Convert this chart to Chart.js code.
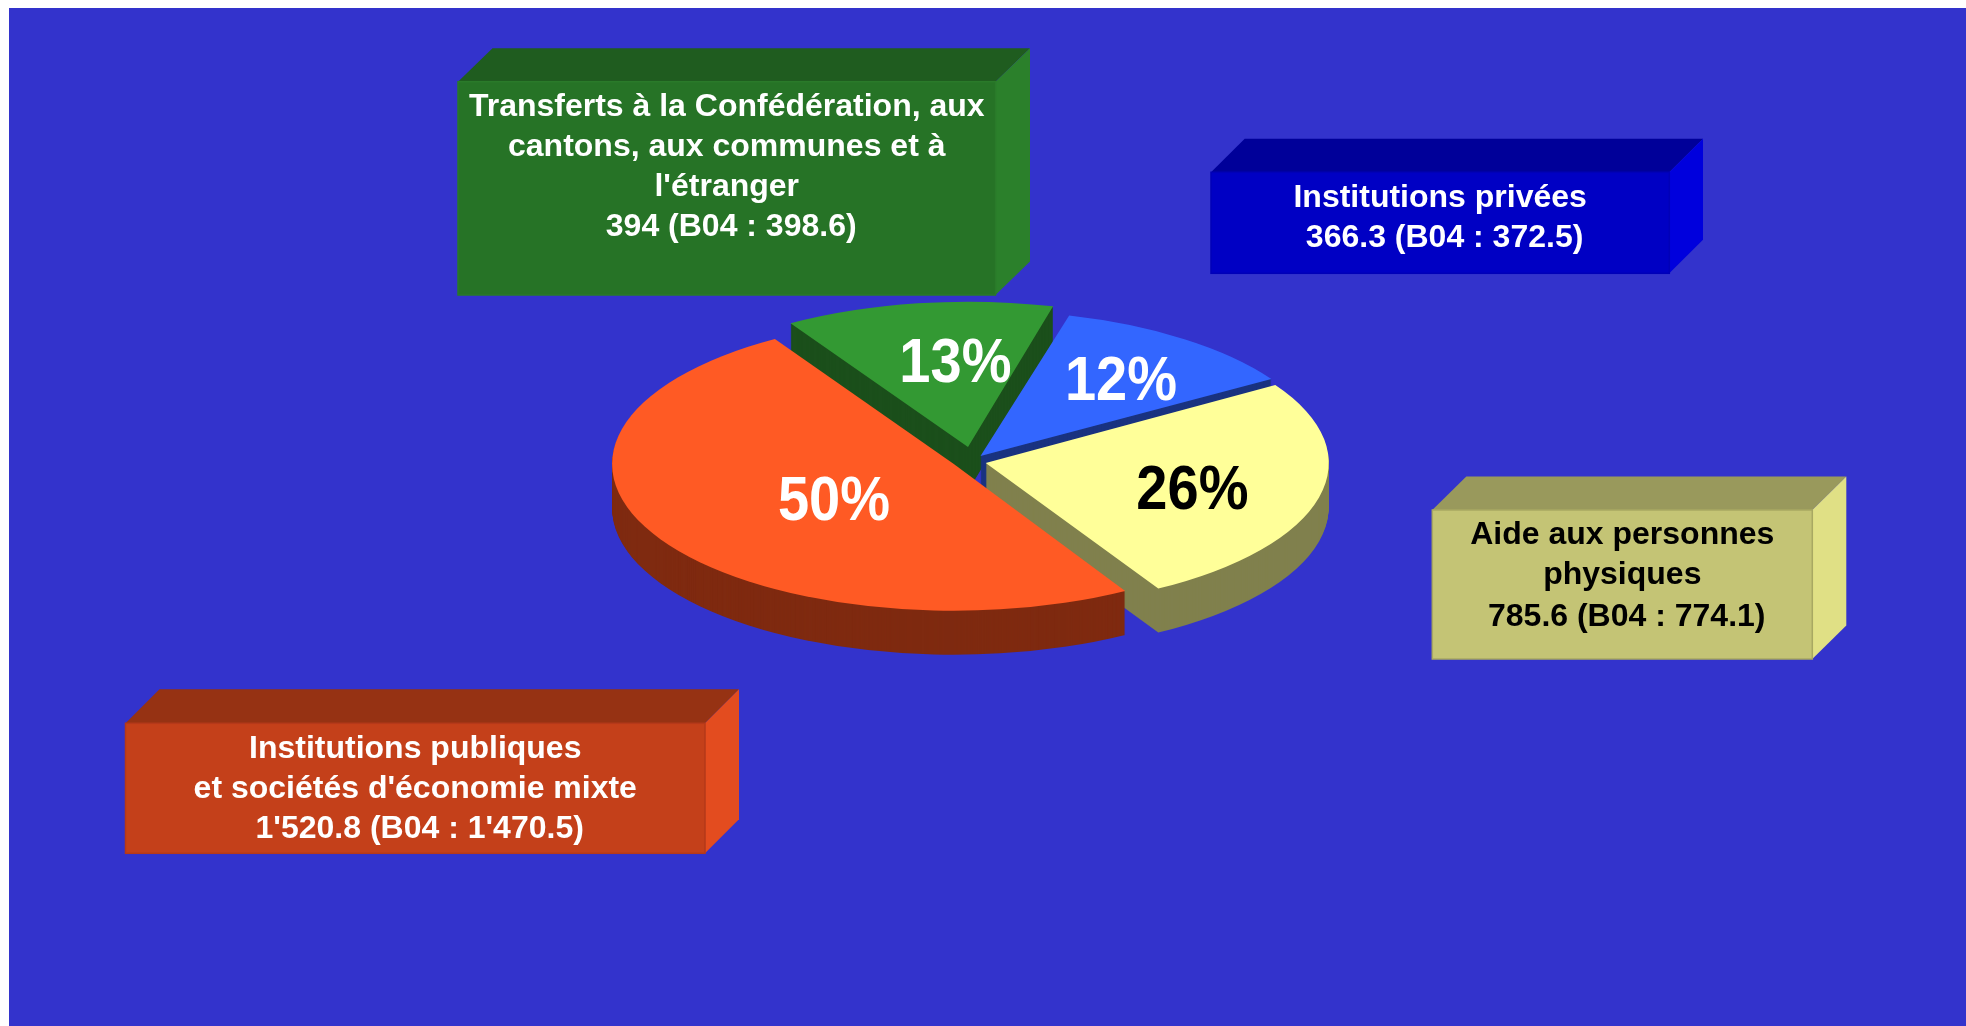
<!DOCTYPE html>
<html>
<head>
<meta charset="utf-8">
<style>
html,body{margin:0;padding:0;background:#fff;overflow:hidden}
canvas{display:block}
</style>
<script src="https://cdn.jsdelivr.net/npm/chart.js@4"></script>
</head>
<body>
<canvas id="c" width="1966" height="1026"></canvas>
<script>
// ---- data ----
const categories = ["Institutions publiques et sociétés d'économie mixte", "Transferts à la Confédération, aux cantons, aux communes et à l'étranger", "Institutions privées", "Aide aux personnes physiques"];
const values = [1520.8, 394, 366.3, 785.6];
const valuesB04 = [1470.5, 398.6, 372.5, 774.1];
const labelLinesPublic = ["Institutions publiques", "et sociétés d'économie mixte", " 1'520.8 (B04 : 1'470.5)"];
const labelLinesTransfers = ["Transferts à la Confédération, aux", "cantons, aux communes et à", "l'étranger", " 394 (B04 : 398.6)"];
const labelLinesPrivate = ["Institutions privées", " 366.3 (B04 : 372.5)"];
const labelLinesPersons = ["Aide aux personnes", "physiques", " 785.6 (B04 : 774.1)"];
const labelLines = [labelLinesPublic, labelLinesTransfers, labelLinesPrivate, labelLinesPersons];

// ---- styles and layout ----
const FONT = '"Liberation Sans", Arial, sans-serif';
const topColors = ['#FF5A24', '#339933', '#3366FF', '#FFFF99'];
const sideColors = ['#7F2A10', '#1B4F1B', '#1A3380', '#80804D'];
const pctColors = ['#FFFFFF', '#FFFFFF', '#FFFFFF', '#000000'];
const apexes = [[953.8, 464], [968, 447], [980.5, 456], [985.7, 463]];
const sliceTurn = [0.9, 0.8, 1.2, 0.8];
const sliceStretch = [1.011, 1, 1.015, 1.015];
const sliceSquash = [0.434, 0.43, 0.43, 0.43];
const pctCenters = [[834, 503], [955.4, 365], [1121, 383], [1192.4, 492]];
const pctStretch = 1.12;
const depth = 44, pieRadius = 338;
const boxes = [
  {x0: 125.5, x1: 705, y0: 723.3, y1: 853.3, dx: 34, dy: 34, front: '#C4401A', top: '#963213', side: '#E34C1F', edge: '#B5391A', text: '#FFFFFF', baselines: [757.7, 798, 838]},
  {x0: 458, x1: 995.5, y0: 81.7, y1: 295, dx: 34.5, dy: 33.5, front: '#267326', top: '#1F5C1F', side: '#2B802B', edge: '#2A7A2A', text: '#FFFFFF', baselines: [116, 156, 196, 236]},
  {x0: 1211, x1: 1669.3, y0: 172.3, y1: 273.3, dx: 33.7, dy: 33.5, front: '#0000C4', top: '#000099', side: '#0000DD', edge: '#0000B8', text: '#FFFFFF', baselines: [207.3, 247.2]},
  {x0: 1432.3, x1: 1812.3, y0: 510, y1: 659, dx: 34, dy: 33.5, front: '#C4C475', top: '#99995C', side: '#E0E085', edge: '#A8A862', text: '#000000', baselines: [544, 584, 625.5]}
];

function drawBox(ctx, b, lines) {
  const poly = (pts, fill) => {
    ctx.beginPath();
    pts.forEach((p, i) => i ? ctx.lineTo(p[0], p[1]) : ctx.moveTo(p[0], p[1]));
    ctx.closePath();
    ctx.fillStyle = fill;
    ctx.fill();
  };
  poly([[b.x0, b.y0], [b.x0 + b.dx, b.y0 - b.dy], [b.x1 + b.dx, b.y0 - b.dy], [b.x1, b.y0]], b.top);
  poly([[b.x1, b.y0], [b.x1 + b.dx, b.y0 - b.dy], [b.x1 + b.dx, b.y1 - b.dy], [b.x1, b.y1]], b.side);
  ctx.fillStyle = b.front;
  ctx.fillRect(b.x0, b.y0, b.x1 - b.x0, b.y1 - b.y0);
  ctx.strokeStyle = b.edge;
  ctx.lineWidth = 1.5;
  ctx.strokeRect(b.x0, b.y0, b.x1 - b.x0, b.y1 - b.y0);
  ctx.font = 'bold 32px ' + FONT;
  ctx.fillStyle = b.text;
  ctx.textAlign = 'center';
  ctx.textBaseline = 'alphabetic';
  lines.forEach((t, i) => ctx.fillText(t, (b.x0 + b.x1) / 2, b.baselines[i]));
}

const pie3d = {
  id: 'pie3d',
  beforeDraw(chart) {
    const ctx = chart.ctx;
    ctx.save();
    ctx.fillStyle = '#FFFFFF';
    ctx.fillRect(0, 0, chart.width, chart.height);
    ctx.fillStyle = '#3333CC';
    ctx.fillRect(9, 8, chart.width - 9, chart.height - 8);
    ctx.restore();
  },
  beforeDatasetsDraw(chart) {
    const ctx = chart.ctx;
    const arcs = chart.getDatasetMeta(0).data;
    // painted back to front: green, blue, yellow, red
    [1, 2, 3, 0].forEach(i => {
      const el = arcs[i], saved = el.options;
      const place = d => {
        ctx.save();
        ctx.translate(apexes[i][0], apexes[i][1] + d);
        ctx.scale(sliceStretch[i], sliceSquash[i]);
        ctx.rotate(sliceTurn[i] * Math.PI / 180);
        ctx.translate(-el.x, -el.y);
        el.draw(ctx);
        ctx.restore();
      };
      el.options = Object.assign({}, saved, {backgroundColor: sideColors[i]});
      for (let d = depth; d > 0; d--) place(d);
      el.options = saved;
      place(0);
    });
    return false;
  },
  afterDraw(chart) {
    const ctx = chart.ctx;
    const total = values.reduce((a, b) => a + b, 0);
    ctx.save();
    [1, 2, 3, 0].forEach(i => drawBox(ctx, boxes[i], labelLines[i]));
    ctx.font = 'bold 56px ' + FONT;
    ctx.textAlign = 'center';
    ctx.textBaseline = 'middle';
    values.forEach((v, i) => {
      ctx.save();
      ctx.translate(pctCenters[i][0], pctCenters[i][1]);
      ctx.scale(1, pctStretch);
      ctx.fillStyle = pctColors[i];
      ctx.fillText(Math.round(v / total * 100) + '%', 0, 0);
      ctx.restore();
    });
    ctx.restore();
  }
};

new Chart(document.getElementById('c'), {
  type: 'pie',
  data: {
    labels: categories,
    datasets: [{
      data: values,
      backgroundColor: topColors,
      borderWidth: 0,
      radius: pieRadius
    }]
  },
  options: {
    responsive: false,
    animation: false,
    rotation: 149,
    layout: {padding: 0},
    plugins: {legend: {display: false}, tooltip: {enabled: false}, title: {display: false}}
  },
  plugins: [pie3d]
});
</script>
</body>
</html>
